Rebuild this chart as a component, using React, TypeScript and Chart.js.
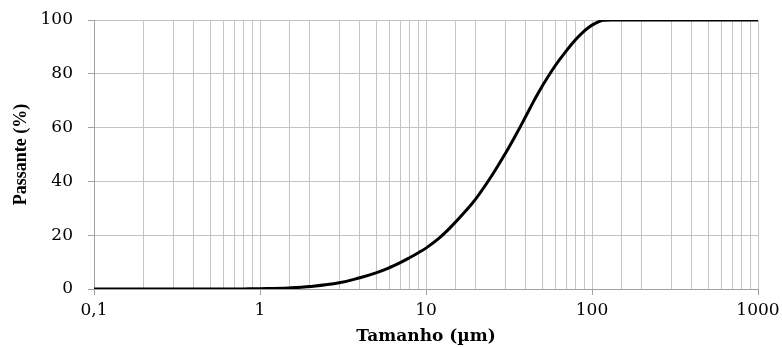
import React, { useEffect, useRef } from "react";
import { Chart, registerables } from "chart.js";

Chart.register(...registerables);

const sizes = [0.1, 0.2, 0.3, 0.5, 0.7, 0.8, 1, 1.5, 2, 3, 4, 5, 6, 7, 8, 9, 10, 12, 14, 17, 20, 25, 30, 35, 40, 45, 50, 60, 70, 80, 90, 100, 112, 120, 130, 200, 500, 1000];
const passing = [0, 0, 0, 0, 0, 0.03, 0.1, 0.4, 0.9, 2.3, 4.2, 6.0, 7.9, 9.8, 11.7, 13.5, 15.2, 18.9, 22.8, 28.4, 33.6, 42.3, 50.3, 57.6, 64.3, 70.3, 75.3, 83, 88.5, 92.8, 96, 98.1, 99.6, 99.9, 100, 100, 100, 100];
const xMajorLabels: Record<string, string> = { "0.1": "0,1", "1": "1", "10": "10", "100": "100", "1000": "1000" };
const yTicks = [0, 20, 40, 60, 80, 100];

const isMajor = (v: number) => {
  const l = Math.log10(v);
  return Math.abs(l - Math.round(l)) < 1e-6;
};

export default function App() {
  const ref = useRef<HTMLCanvasElement | null>(null);
  useEffect(() => {
    if (!ref.current) return;
    const chart = new Chart(ref.current, {
      type: "line",
      data: {
        datasets: [
          {
            data: sizes.map((s, i) => ({ x: s, y: passing[i] })),
            borderColor: "#000",
            borderWidth: 3,
            pointRadius: 0,
            tension: 0.4,
            fill: false,
          },
        ],
      },
      options: {
        animation: false,
        responsive: false,
        maintainAspectRatio: false,
        layout: { padding: { top: 20, right: 24, left: 0, bottom: 0 } },
        plugins: { legend: { display: false }, tooltip: { enabled: false } },
        scales: {
          x: {
            type: "logarithmic",
            min: 0.1,
            max: 1000,
            afterFit: (s: any) => {
              s.height = 58;
              s.paddingRight = 0;
              s.paddingLeft = 0;
            },
            grid: {
              color: "#c4c4c4",
              lineWidth: 1,
              tickLength: 6,
              tickColor: (c: any) => (c.tick && isMajor(c.tick.value) ? "#a0a0a0" : "rgba(0,0,0,0)"),
            },
            border: { color: "#a0a0a0" },
            ticks: {
              autoSkip: false,
              maxRotation: 0,
              padding: 5,
              color: "#000",
              font: { family: "DejaVu Serif", size: 17 },
              callback: (v: any) => {
                const n = Number(v);
                if (!isMajor(n)) return "";
                const key = String(Math.pow(10, Math.round(Math.log10(n))));
                return xMajorLabels[key] ?? "";
              },
            },
            title: {
              display: true,
              text: "Tamanho (µm)",
              color: "#000",
              font: { family: "DejaVu Serif", size: 17, weight: "bold" },
              padding: { top: 0, bottom: 0 },
            },
          },
          y: {
            min: 0,
            max: 100,
            afterFit: (s: any) => {
              s.width = 94;
              s.paddingTop = 0;
              s.paddingBottom = 0;
            },
            afterBuildTicks: (s: any) => {
              s.ticks = yTicks.map((v) => ({ value: v }));
            },
            grid: { color: "#c4c4c4", lineWidth: 1, tickLength: 6, tickColor: "#a0a0a0" },
            border: { color: "#a0a0a0" },
            ticks: {
              padding: 15,
              color: "#000",
              font: { family: "DejaVu Serif", size: 17 },
            },
            title: {
              display: true,
              text: "Passante (%)",
              color: "#000",
              font: { family: "Liberation Serif", size: 18, weight: "bold" },
              padding: { top: 11, bottom: 0 },
            },
          },
        },
      },
    });
    return () => chart.destroy();
  }, []);
  return (
    <div style={{ position: "fixed", left: 0, top: 0, width: 782, height: 347, background: "#fff" }}>
      <canvas ref={ref} width={782} height={347} style={{ width: 782, height: 347, display: "block" }} />
    </div>
  );
}
